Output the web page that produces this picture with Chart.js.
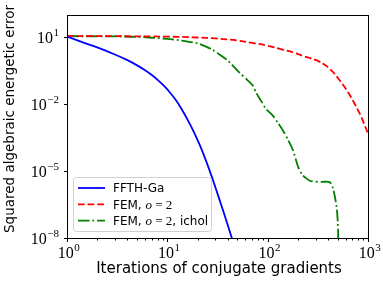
<!DOCTYPE html>
<html lang="en">
<head>
<meta charset="UTF-8">
<title>CG convergence</title>
<script src="https://cdn.jsdelivr.net/npm/chart.js"></script>
<style>
  body { margin: 0; background: #fff; }
  #chart { display: block; }
</style>
</head>
<body>
<canvas id="chart" width="383" height="288"></canvas>
<script>
// data
const fftIter = [1, 2, 3, 4, 5, 6, 7, 8, 9, 10, 12, 14, 16, 18, 20, 22, 25, 28, 30, 35, 40, 44, 46];
const fftErr = [10.7, 3.53, 1.7, 0.944, 0.552, 0.332, 0.203, 0.124, 0.0755, 0.0459, 0.0166, 5.6e-3, 1.93e-3,
                6.9e-4, 2.48e-4, 9.2e-5, 2.06e-5, 4.98e-6, 2.0e-6, 2.45e-7, 3.8e-8, 9.8e-9, 5.2e-9];

const femIter = [1, 3, 10, 20, 30, 50, 70, 100, 140, 180, 220, 260, 320, 380, 420, 450, 500, 566, 640, 713,
                 800, 865, 1000];
const femErr = [11.2, 11.2, 10.7, 9.8, 8.9, 7.2, 5.6, 4.2, 2.8, 2.1, 1.5, 1.19, 0.85, 0.54, 0.37, 0.27, 0.151,
                0.072, 0.0316, 0.0135, 5.1e-3, 2.45e-3, 4.8e-4];

const icholIter = [1, 3, 5, 10, 15, 21, 28, 35, 40, 52, 64, 71, 77, 86, 95, 105, 113, 127, 142, 160, 179,
                   201, 220, 244, 273, 350, 417, 450, 486, 500, 505, 508];
const icholErr = [11.2, 11.0, 10.5, 8.5, 6.8, 5.0, 2.8, 1.41, 0.91, 0.27, 0.112, 0.069, 0.0316, 0.0141,
                  6.6e-3, 4.2e-3, 3.0e-3, 1.41e-3, 6.6e-4, 2.5e-4, 8.5e-5, 1.58e-5, 7.1e-6, 4.6e-6, 3.5e-6,
                  3.3e-6, 3.2e-6, 1.58e-6, 2.5e-7, 5e-8, 1e-8, 3e-9];

const xMajor = [1, 10, 100, 1000];
const xMajorExp = ['0', '1', '2', '3'];
const xMinor = [2, 3, 4, 5, 6, 7, 8, 9, 20, 30, 40, 50, 60, 70, 80, 90, 200, 300, 400, 500, 600, 700, 800, 900];
const yMajor = [1e1, 1e-2, 1e-5, 1e-8];
const yMajorExp = ['1', '\u22122', '\u22125', '\u22128'];

const xTitle = 'Iterations of conjugate gradients';
const yTitle = 'Squared algebraic energetic error';

const blue = '#0000ff', red = '#ff0000', green = '#008000';
const dashRed = [6.7, 2.9];
const dashGreen = [11.5, 2.9, 1.8, 2.9];

const SANS = '"DejaVu Sans", sans-serif';
const SERIF = '"Liberation Serif", "DejaVu Serif", serif';

function toXY(xs, ys) {
    return xs.map((x, i) => ({ x: x, y: ys[i] }));
}

// draws a run of text pieces with different fonts
function drawParts(ctx, parts, x, y) {
    parts.forEach(p => {
        ctx.font = p.f;
        ctx.fillText(p.t, x, y);
        x += ctx.measureText(p.t).width;
    });
}

function pow10(ctx, x, y, exp, align) {
    ctx.font = '16px ' + SERIF;
    const wb = ctx.measureText('10').width;
    ctx.font = '11px ' + SERIF;
    const we = ctx.measureText(exp).width;
    let left = x;
    if (align === 'right') left = x - wb - we;
    if (align === 'center') left = x - (wb + we) / 2;
    ctx.textAlign = 'left';
    ctx.textBaseline = 'alphabetic';
    ctx.font = '16px ' + SERIF;
    ctx.fillText('10', left, y);
    ctx.font = '11px ' + SERIF;
    ctx.fillText(exp, left + wb + 0.5, y - 7);
}

const decor = {
    id: 'decor',
    afterDatasetsDraw(chart) {
        const { ctx, chartArea: a, scales: { x, y } } = chart;
        ctx.save();

        // legend box
        const lx = a.left + 6, ly = a.bottom - 61, lw = 138, lh = 54;
        ctx.beginPath();
        ctx.roundRect(lx + 0.5, ly + 0.5, lw, lh, 3);
        ctx.fillStyle = 'rgba(255,255,255,0.8)';
        ctx.fill();
        ctx.strokeStyle = '#d0d0d0';
        ctx.lineWidth = 1;
        ctx.stroke();

        const rows = [
            { c: blue, d: [], parts: [{ t: 'FFTH-Ga', f: '12px ' + SANS }] },
            { c: red, d: dashRed, parts: [{ t: 'FEM, ', f: '12px ' + SANS }, { t: 'o', f: 'italic 13px ' + SERIF },
                                          { t: ' = 2', f: '13px ' + SERIF }] },
            { c: green, d: dashGreen, parts: [{ t: 'FEM, ', f: '12px ' + SANS }, { t: 'o', f: 'italic 13px ' + SERIF },
                                              { t: ' = 2', f: '13px ' + SERIF }, { t: ', ichol', f: '12px ' + SANS }] }
        ];
        rows.forEach((r, i) => {
            const cy = ly + 11 + i * 16.3;
            ctx.beginPath();
            ctx.setLineDash(r.d);
            ctx.strokeStyle = r.c;
            ctx.lineWidth = 1.8;
            ctx.moveTo(lx + 5, cy);
            ctx.lineTo(lx + 32, cy);
            ctx.stroke();
            ctx.setLineDash([]);
            ctx.fillStyle = '#000';
            ctx.textAlign = 'left';
            ctx.textBaseline = 'alphabetic';
            drawParts(ctx, r.parts, lx + 40, cy + 4.2);
        });

        // frame
        ctx.strokeStyle = '#000';
        ctx.lineWidth = 1;
        ctx.strokeRect(a.left + 0.5, a.top + 0.5, a.right - a.left, a.bottom - a.top);

        // ticks
        ctx.beginPath();
        xMajor.forEach(v => {
            const px = Math.round(x.getPixelForValue(v)) + 0.5;
            ctx.moveTo(px, a.bottom + 0.5);
            ctx.lineTo(px, a.bottom + 4);
        });
        xMinor.forEach(v => {
            const px = Math.round(x.getPixelForValue(v)) + 0.5;
            ctx.moveTo(px, a.bottom + 0.5);
            ctx.lineTo(px, a.bottom + 2.5);
        });
        yMajor.forEach(v => {
            const py = Math.round(y.getPixelForValue(v)) + 0.5;
            ctx.moveTo(a.left + 0.5, py);
            ctx.lineTo(a.left - 3, py);
        });
        ctx.stroke();

        // tick labels
        ctx.fillStyle = '#000';
        xMajor.forEach((v, i) => {
            pow10(ctx, x.getPixelForValue(v) + 1.5, a.bottom + 20, xMajorExp[i], 'center');
        });
        yMajor.forEach((v, i) => {
            pow10(ctx, a.left - 8.5, y.getPixelForValue(v) + 5.5, yMajorExp[i], 'right');
        });

        // axis titles
        ctx.textAlign = 'center';
        ctx.textBaseline = 'alphabetic';
        ctx.font = '15px ' + SANS;
        ctx.fillText(xTitle, (a.left + a.right) / 2 + 1.5, 273);
        ctx.translate(14, 119);
        ctx.rotate(-Math.PI / 2);
        ctx.font = '13.5px ' + SANS;
        ctx.fillText(yTitle, 0, 0);
        ctx.restore();
    }
};

new Chart(document.getElementById('chart'), {
    type: 'line',
    data: {
        datasets: [
            { label: 'FFTH-Ga', data: toXY(fftIter, fftErr), borderColor: blue, borderWidth: 1.8, clip: 0 },
            { label: 'FEM, o = 2', data: toXY(femIter, femErr), borderColor: red, borderWidth: 1.8,
              borderDash: dashRed, clip: 0 },
            { label: 'FEM, o = 2, ichol', data: toXY(icholIter, icholErr), borderColor: green, borderWidth: 1.8,
              borderDash: dashGreen, clip: 0, tension: 0.25 }
        ]
    },
    options: {
        responsive: false,
        animation: false,
        layout: { padding: { top: 15, right: 15, left: 0, bottom: 0 } },
        elements: {
            point: { radius: 0 },
            line: { tension: 0.4, fill: false }
        },
        plugins: { legend: { display: false }, tooltip: { enabled: false } },
        scales: {
            x: {
                type: 'logarithmic', min: 1, max: 1000,
                ticks: { display: false }, grid: { display: false }, border: { display: false },
                afterFit: s => { s.height = 50; }
            },
            y: {
                type: 'logarithmic', min: 1e-8, max: 1e2,
                ticks: { display: false }, grid: { display: false }, border: { display: false },
                afterFit: s => { s.width = 67; }
            }
        }
    },
    plugins: [decor]
});
</script>
</body>
</html>
